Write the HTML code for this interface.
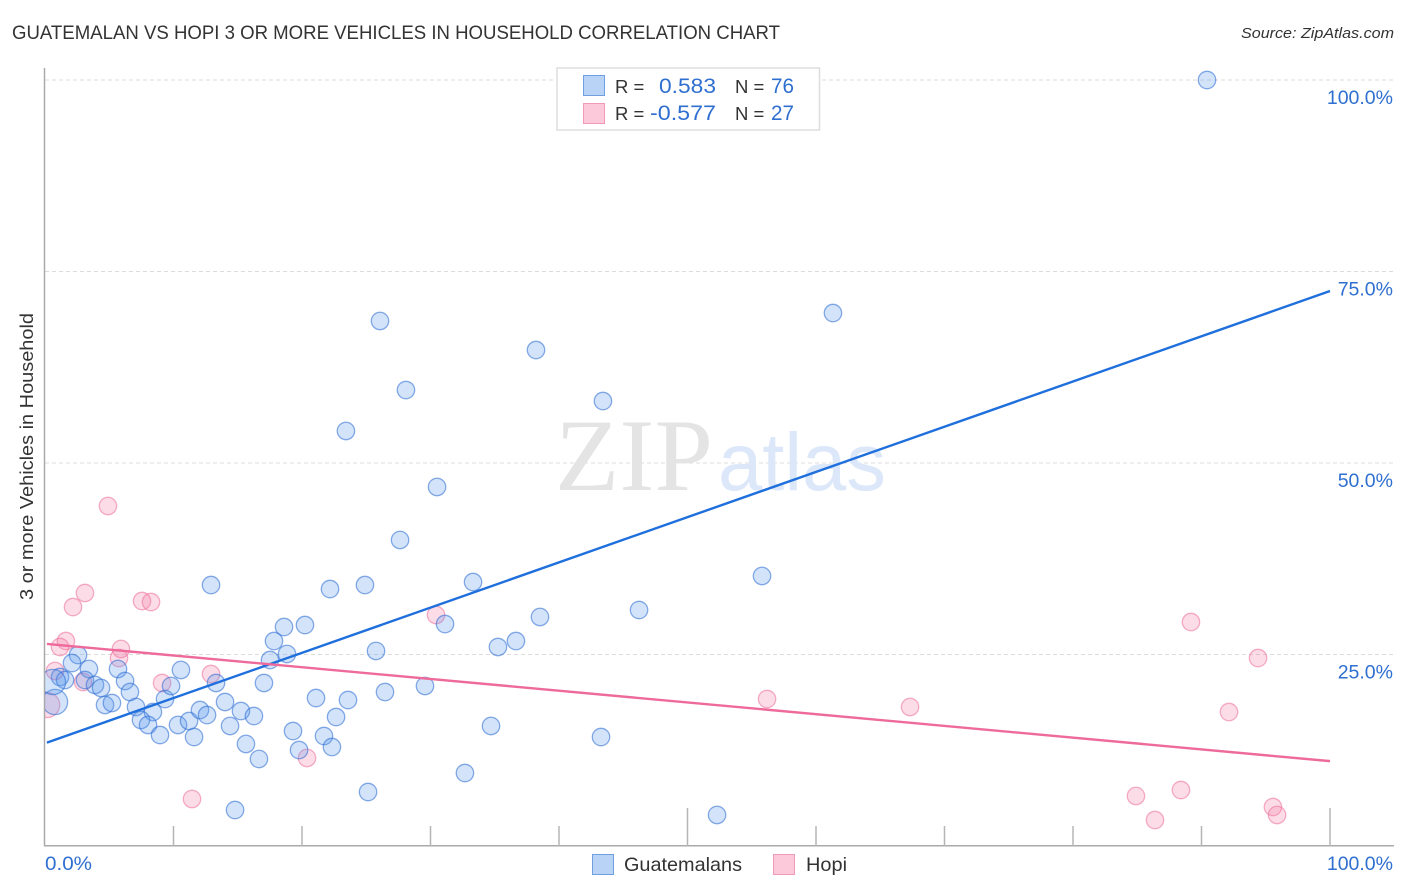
<!DOCTYPE html>
<html>
<head>
<meta charset="utf-8">
<title>Guatemalan vs Hopi 3 or More Vehicles in Household Correlation Chart</title>
<style>
html,body{margin:0;padding:0;background:#fff;width:1406px;height:892px;overflow:hidden}
svg{display:block;font-family:"Liberation Sans",sans-serif}
</style>
</head>
<body>
<svg id="chart" xmlns="http://www.w3.org/2000/svg" width="1406" height="892" viewBox="0 0 1406 892">
  <defs><clipPath id="plot-clip"><rect x="45" y="60" width="1349" height="786"/></clipPath></defs>
  <text x="12" y="39" font-size="19" fill="#333" textLength="768" lengthAdjust="spacingAndGlyphs">GUATEMALAN VS HOPI 3 OR MORE VEHICLES IN HOUSEHOLD CORRELATION CHART</text>
  <text x="1241" y="38" font-size="15" font-style="italic" fill="#333" textLength="153" lengthAdjust="spacingAndGlyphs">Source: ZipAtlas.com</text>
  <text transform="translate(33,456.5) rotate(-90)" text-anchor="middle" font-size="18.5" fill="#333" textLength="287" lengthAdjust="spacingAndGlyphs">3 or more Vehicles in Household</text>
  <g id="grid"></g>
  <text x="555" y="490" font-family="'Liberation Serif',serif" font-size="103" fill="#e4e4e4" textLength="158" lengthAdjust="spacingAndGlyphs">ZIP</text>
  <text x="718" y="490" font-size="82" fill="#dce8fa" textLength="168" lengthAdjust="spacingAndGlyphs">atlas</text>
  <g id="axes"></g>
  <g id="points" clip-path="url(#plot-clip)"></g>
  <g id="lines"></g>
  <g>
    <rect x="557" y="68" width="262.5" height="62" fill="#fff" stroke="#ddd" stroke-width="1.5"/>
    <rect x="583.5" y="75.5" width="21" height="20" fill="#b9d3f7" stroke="#6f9fe0" stroke-width="1"/>
    <rect x="583.5" y="103.5" width="21" height="20" fill="#fcc9da" stroke="#f09ab8" stroke-width="1"/>
    <text x="615" y="93" font-size="18.5" fill="#333">R =</text>
    <text x="659" y="93" font-size="21.5" fill="#2f6fd0" textLength="57" lengthAdjust="spacingAndGlyphs">0.583</text>
    <text x="735" y="93" font-size="18.5" fill="#333">N =</text>
    <text x="771" y="93" font-size="21.5" fill="#2f6fd0" textLength="23" lengthAdjust="spacingAndGlyphs">76</text>
    <text x="615" y="120" font-size="18.5" fill="#333">R =</text>
    <text x="650" y="120" font-size="21.5" fill="#2f6fd0" textLength="66" lengthAdjust="spacingAndGlyphs">-0.577</text>
    <text x="735" y="120" font-size="18.5" fill="#333">N =</text>
    <text x="771" y="120" font-size="21.5" fill="#2f6fd0" textLength="23" lengthAdjust="spacingAndGlyphs">27</text>
  </g>
  <g>
    <rect x="592.5" y="854.5" width="21" height="20" fill="#b9d3f7" stroke="#6f9fe0" stroke-width="1"/>
    <text x="624" y="871" font-size="19.5" fill="#333" textLength="118" lengthAdjust="spacingAndGlyphs">Guatemalans</text>
    <rect x="773.5" y="854.5" width="21" height="20" fill="#fcc9da" stroke="#f09ab8" stroke-width="1"/>
    <text x="806" y="871" font-size="19.5" fill="#333" textLength="41" lengthAdjust="spacingAndGlyphs">Hopi</text>
  </g>
</svg>
<script>
const guatemalanX = [90.43,61.32,26.07,38.21,28.09,43.42,23.42,30.51,27.63,55.80,12.92,24.90,22.18,33.31,46.23,38.52,31.13,35.25,36.65,25.76,26.46,29.57,25.14,32.68,14.79,52.30,43.27,34.71,2.57,2.10,3.42,1.17,1.56,3.11,3.89,4.36,5.68,6.23,6.61,4.67,5.21,7.08,8.40,7.47,8.02,8.95,9.34,9.81,10.58,10.35,11.21,11.60,12.06,12.61,13.31,14.01,14.40,15.25,16.26,15.64,16.65,17.04,17.51,17.82,18.60,18.83,20.23,19.30,19.77,21.09,21.71,22.33,22.65,23.58,0.78,0.62];
const guatemalanY = [100,69.58,68.54,64.75,59.53,58.09,54.18,46.87,39.95,35.25,34.07,34.07,33.55,34.46,30.81,29.90,28.98,25.98,26.76,25.46,20.10,20.89,7.05,9.53,4.70,4.05,14.23,15.67,24.93,23.89,23.11,22.06,21.67,21.67,21.02,20.63,23.11,21.54,20.10,18.41,18.67,18.15,17.49,16.45,15.80,14.49,19.19,20.89,22.98,15.80,16.32,14.23,17.75,17.10,21.28,18.80,15.67,17.62,16.97,13.32,11.36,21.28,24.28,26.76,28.59,25.07,28.85,15.01,12.53,19.32,14.36,12.92,16.84,19.06,18.80,21.41];
const guatemalanWeight = [1,1,1,1,1,1,1,1,1,1,1,1,1,1,1,1,1,1,1,1,1,1,1,1,1,1,1,1,1,1,1,1,1,1,1,1,1,1,1,1,1,1,1,1,1,1,1,1,1,1,1,1,1,1,1,1,1,1,1,1,1,1,1,1,1,1,1,1,1,1,1,1,1,1,1.45,1.45];
const hopiX = [4.90,3.11,2.18,7.55,8.25,1.63,1.17,5.91,5.76,0.78,2.96,9.11,12.92,11.44,20.39,30.43,56.19,67.32,89.18,94.40,92.14,84.90,88.40,86.38,95.56,95.88,0.16];
const hopiY = [44.39,33.03,31.20,31.98,31.85,26.76,25.98,25.72,24.54,22.85,21.41,21.28,22.45,6.14,11.49,30.16,19.19,18.15,29.24,24.54,17.49,6.53,7.31,3.39,5.09,4.05,18.41];
const hopiWeight = [1,1,1,1,1,1,1,1,1,1,1,1,1,1,1,1,1,1,1,1,1,1,1,1,1,1,1.45];
const trendX = [0.15,100];
const guatemalanTrend = [13.5,72.45];
const hopiTrend = [26.38,11.08];
const yTicks = [100,75,50,25];
const yTickLabels = ["100.0%","75.0%","50.0%","25.0%"];
const xTicks = [10,20,30,40,50,60,70,80,90,100];
const xMajorTicks = [50,100];
const xEndLabels = ["0.0%","100.0%"];

const NS = "http://www.w3.org/2000/svg";
function xScale(v){ return 45 + v * 12.85; }
function yScale(v){ return 846 - v * 7.66; }
function make(tag, parent, props, text){
  const el = document.createElementNS(NS, tag);
  for (const k in props) el.setAttribute(k, props[k]);
  if (text !== undefined) el.textContent = text;
  parent.appendChild(el);
  return el;
}
const gridG = document.getElementById("grid");
const axesG = document.getElementById("axes");
const pointsG = document.getElementById("points");
const linesG = document.getElementById("lines");

yTicks.forEach(function(t, i){
  const grid = make("line", gridG, {x1:45, x2:1394, y1:yScale(t), y2:yScale(t), stroke:"#dcdcdc", "stroke-width":1, "stroke-dasharray":"4 3"});
  
  
  const lab = make("text", axesG, {x:1393, y:yScale(t)+24, "font-size":19.5, fill:"#2f6fd0", "text-anchor":"end"}, yTickLabels[i]);
  
  
});

const yAxis = make("line", axesG, {x1:44.5, x2:44.5, y1:68, y2:846, stroke:"#aaa", "stroke-width":1.5});


const xAxis = make("line", axesG, {x1:44, x2:1394, y1:845.7, y2:845.7, stroke:"#aaa", "stroke-width":1.5});



xTicks.forEach(function(t){
  const top = xMajorTicks.indexOf(t) >= 0 ? 808 : 826;
  const tick = make("line", axesG, {x1:xScale(t), x2:xScale(t), y1:top, y2:846, stroke:"#b5b5b5", "stroke-width":1.5});
  
  
});

const xLabelLeft = make("text", axesG, {x:45, y:870, "font-size":19.5, fill:"#2f6fd0", textLength:47, lengthAdjust:"spacingAndGlyphs"}, xEndLabels[0]);


const xLabelRight = make("text", axesG, {x:1393, y:870, "font-size":19.5, fill:"#2f6fd0", "text-anchor":"end"}, xEndLabels[1]);



hopiX.forEach(function(x, i){
  const c = make("circle", pointsG, {cx:xScale(x), cy:yScale(hopiY[i]), r:8.7*hopiWeight[i], fill:"rgba(245,130,170,0.28)", stroke:"rgba(236,110,155,0.55)", "stroke-width":1.3});
  
  
});
guatemalanX.forEach(function(x, i){
  const c = make("circle", pointsG, {cx:xScale(x), cy:yScale(guatemalanY[i]), r:8.7*guatemalanWeight[i], fill:"rgba(90,150,235,0.27)", stroke:"rgba(40,105,210,0.55)", "stroke-width":1.3});
  
  
});

const blueLine = make("line", linesG, {x1:xScale(trendX[0]), y1:yScale(guatemalanTrend[0]), x2:xScale(trendX[1]), y2:yScale(guatemalanTrend[1]), stroke:"#1f6fdc", "stroke-width":2.4});


const pinkLine = make("line", linesG, {x1:xScale(trendX[0]), y1:yScale(hopiTrend[0]), x2:xScale(trendX[1]), y2:yScale(hopiTrend[1]), stroke:"#ee6a9a", "stroke-width":2.4});


</script>
</body>
</html>
